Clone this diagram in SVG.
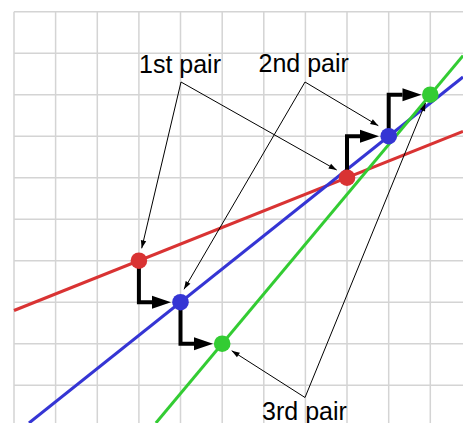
<svg xmlns="http://www.w3.org/2000/svg" width="463" height="423" viewBox="0 0 463 423">
<style>
.grid{stroke:#d4d4d4;stroke-width:1.5;fill:none}
.ln{stroke-width:3;fill:none}
.step{stroke:#000;stroke-width:4;fill:none;marker-end:url(#big)}
.lead{stroke:#000;stroke-width:1;fill:none;marker-end:url(#small)}
.lbl{font-family:"Liberation Sans",Arial,sans-serif;font-size:25px;fill:#000;text-anchor:middle}
</style>
<defs>
<marker id="big" markerUnits="userSpaceOnUse" markerWidth="20" markerHeight="14" refX="0" refY="6.5" orient="auto" overflow="visible">
<path d="M0,0 L19,6.5 L0,13 z" fill="#000"/>
</marker>
<marker id="small" markerUnits="userSpaceOnUse" markerWidth="9" markerHeight="6" refX="8" refY="2.75" orient="auto" overflow="visible">
<path d="M0,0 L8,2.75 L0,5.5 z" fill="#000"/>
</marker>
</defs>
<rect width="463" height="423" fill="#fff"/>
<g id="grid" class="grid">
<path d="M14,11.7V423M55.6,11.7V423M97.3,11.7V423M138.9,11.7V423M180.5,11.7V423M222.2,11.7V423M263.8,11.7V423M305.4,11.7V423M347,11.7V423M388.7,11.7V423M430.3,11.7V423"/>
<path d="M14,11.7H463M14,53.2H463M14,94.7H463M14,136.2H463M14,177.7H463M14,219.2H463M14,260.7H463M14,302.2H463M14,343.7H463M14,385.2H463"/>
</g>
<g id="lines">
<line id="red-line" class="ln" x1="14" y1="310.5" x2="463" y2="131.4" stroke="#d93333"/>
<line id="blue-line" class="ln" x1="29" y1="423" x2="463" y2="77" stroke="#3535d4"/>
<line id="green-line" class="ln" x1="155.9" y1="423" x2="463" y2="55.6" stroke="#33cc33"/>
</g>
<g id="connectors">
<path class="step" d="M138.9,260.7V302.2H152"/>
<path class="step" d="M180.5,302.2V343.7H194"/>
<path class="step" d="M347,177.7V136.2H360"/>
<path class="step" d="M388.7,136.2V94.7H402.5"/>
<path class="lead" d="M181,82L141.7,248.3"/>
<path class="lead" d="M181,82L336.7,170"/>
<path class="lead" d="M305,82L378.3,125.7"/>
<path class="lead" d="M305,82L184,289.3"/>
<path class="lead" d="M305,397.5L231.7,350.7"/>
<path class="lead" d="M305,397.5L425.5,103"/>
</g>
<g id="red1"><circle cx="138.9" cy="260.7" r="8.3" fill="#d93333"/></g>
<g id="blue1"><circle cx="180.5" cy="302.2" r="8.3" fill="#3535d4"/></g>
<g id="green1"><circle cx="222.2" cy="343.7" r="8.3" fill="#33cc33"/></g>
<g id="red2"><circle cx="347" cy="177.7" r="8.3" fill="#d93333"/></g>
<g id="blue2"><circle cx="388.7" cy="136.2" r="8.3" fill="#3535d4"/></g>
<g id="green2"><circle cx="430.3" cy="94.7" r="8.3" fill="#33cc33"/></g>
<g id="label1"><text class="lbl" x="180" y="72.5">1st pair</text></g>
<g id="label2"><text class="lbl" x="303.7" y="72">2nd pair</text></g>
<g id="label3"><text class="lbl" x="304.5" y="419.5">3rd pair</text></g>
</svg>
